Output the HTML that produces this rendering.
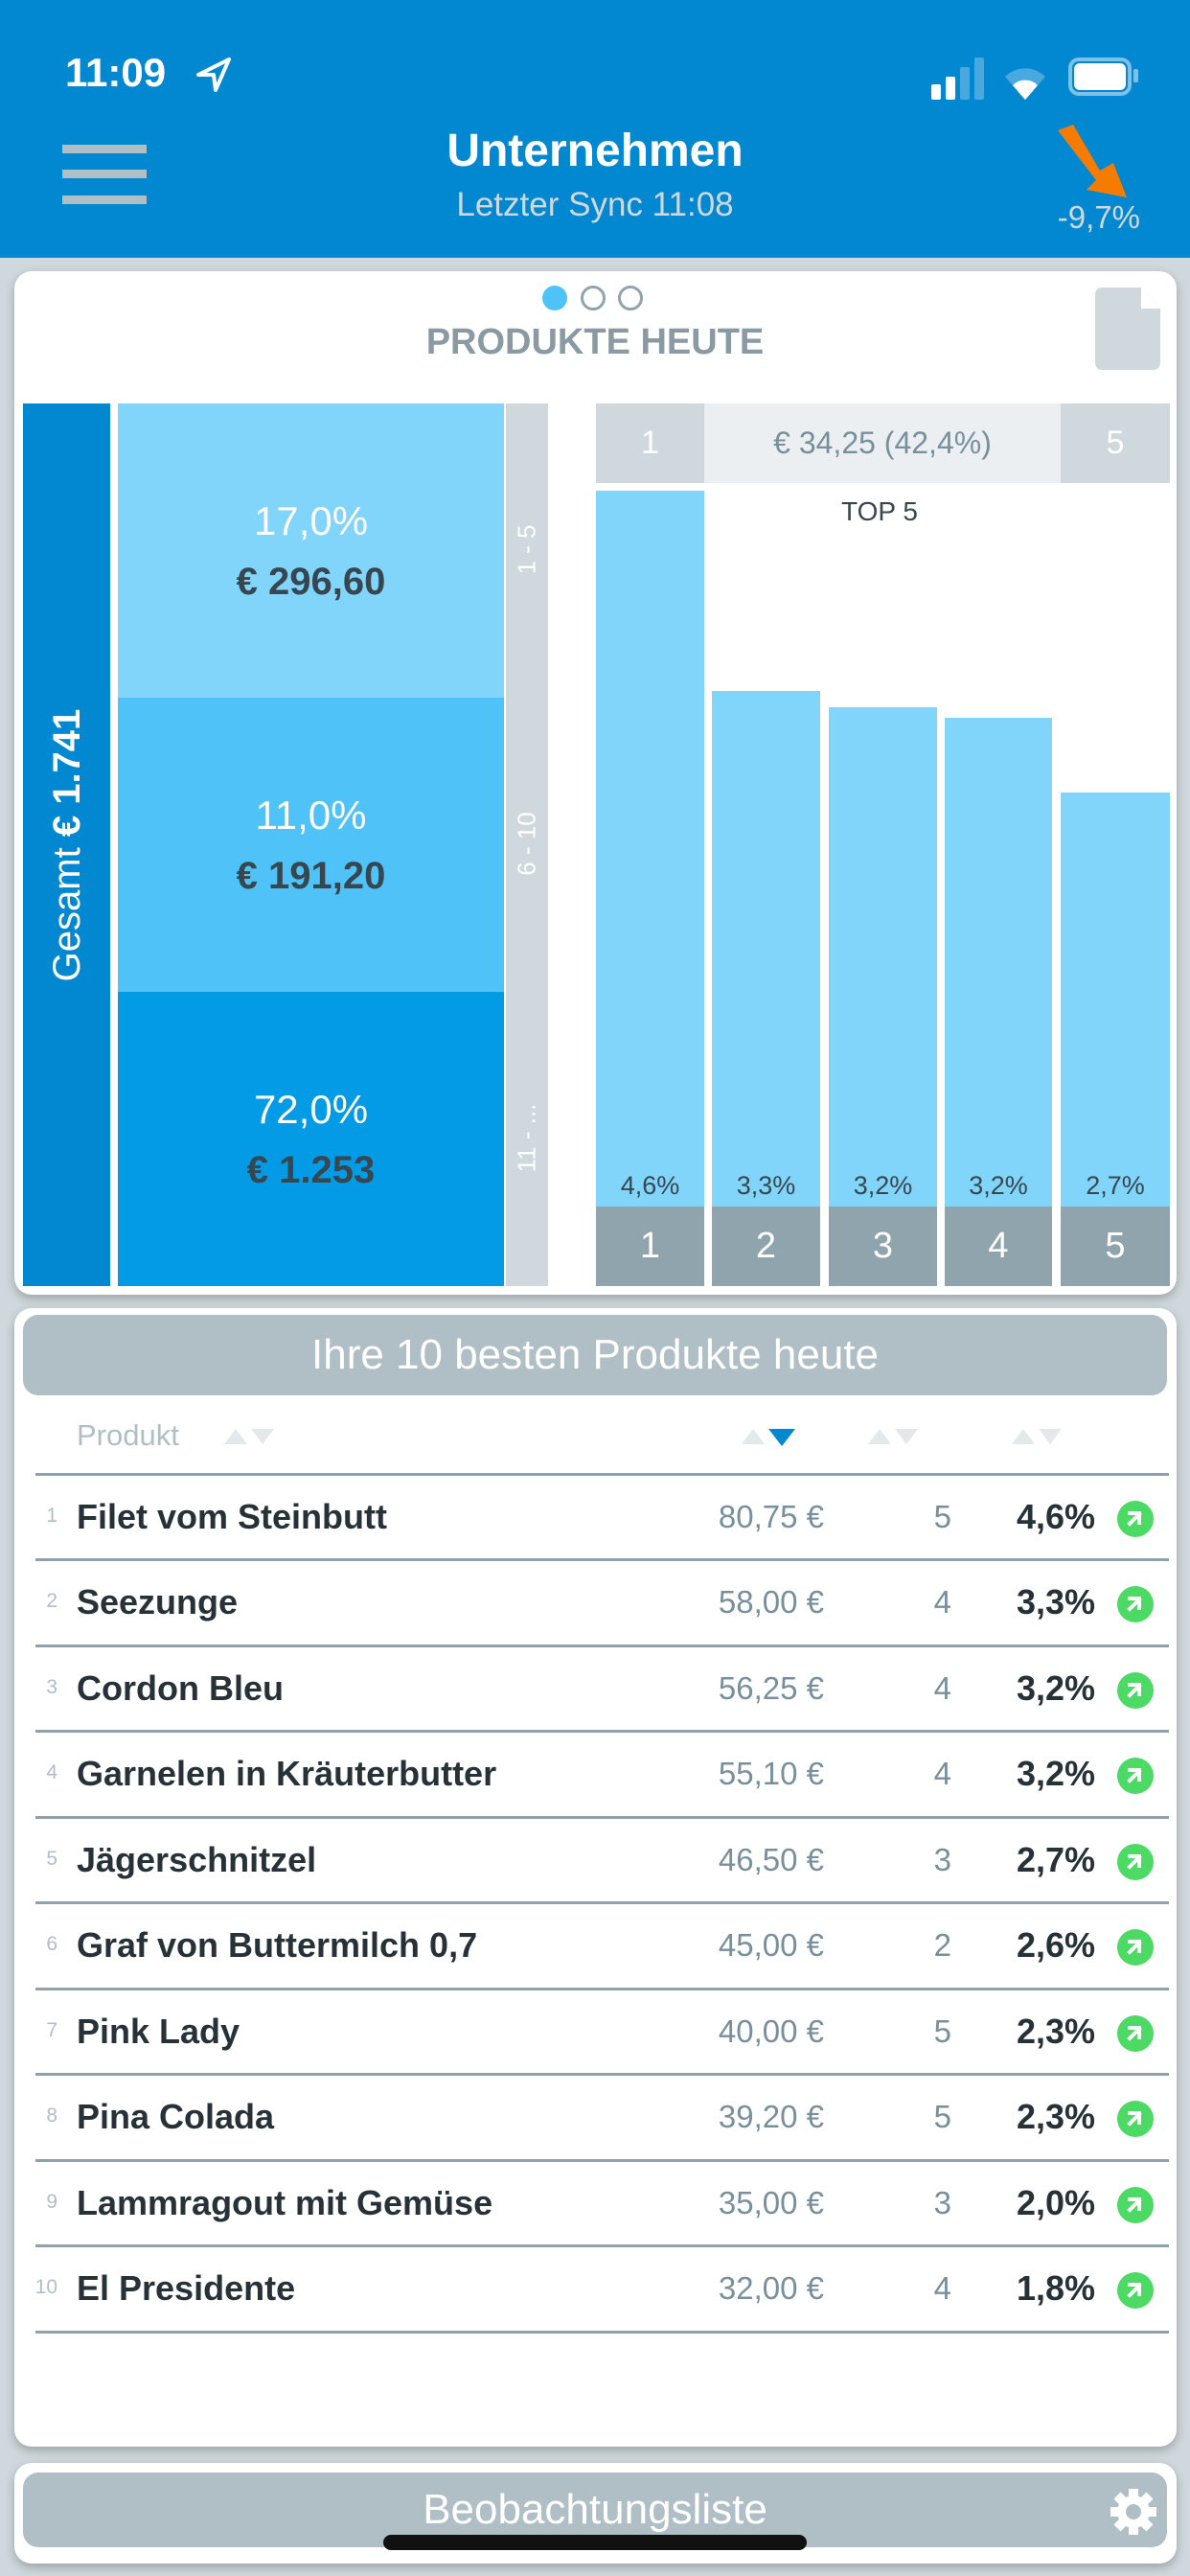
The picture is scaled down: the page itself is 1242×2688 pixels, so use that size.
<!DOCTYPE html>
<html><head><meta charset="utf-8"><style>
*{margin:0;padding:0;box-sizing:border-box}
body{width:1242px;height:2688px;background:#cfd8dc;font-family:"Liberation Sans",sans-serif;position:relative;overflow:hidden}
.a{position:absolute}
.c{text-align:center}
.card{position:absolute;background:#fff;border-radius:18px;box-shadow:0 4px 10px rgba(0,0,0,.25)}
.row{position:absolute;left:0;width:1242px;height:89px}
.idx{position:absolute;right:1182px;font-size:21px;color:#b0bec5;top:32px}
.nm{position:absolute;left:80px;font-size:36px;font-weight:bold;color:#263238;top:24px}
.pr{position:absolute;right:382px;font-size:33px;color:#78909c;top:26px}
.qt{position:absolute;right:249px;font-size:33px;color:#78909c;top:26px}
.pc{position:absolute;right:99px;font-size:36px;font-weight:bold;color:#263238;top:24px}
.gi{position:absolute;left:1166px;top:28px;width:38px;height:38px;border-radius:50%;background:#4cd964}
.ln{position:absolute;left:37px;width:1183px;height:3px;background:#8fa1ad}
.bar{position:absolute;background:#81d4fa}
.pl{position:absolute;font-size:27px;color:#37474f;text-align:center}
.bl{position:absolute;top:1259px;height:83px;background:#90a4ae;color:#fff;font-size:38px;text-align:center;line-height:83px}
</style></head><body>
<div class="a" style="left:0;top:0;width:1242px;height:269px;background:#0288d1"></div>
<div class="a" style="left:68px;top:52px;font-size:42px;font-weight:bold;color:#fff">11:09</div>
<svg class="a" style="left:203px;top:58px" width="40" height="40" viewBox="0 0 40 40"><path d="M36 4 L4 20 L20 20 L22 36 Z" fill="none" stroke="#fff" stroke-width="4" stroke-linejoin="round"/></svg>
<div class="a" style="left:972px;top:190px"></div>
<div class="a" style="left:972px;top:88px;width:10px;height:16px;background:#fff;border-radius:2px"></div>
<div class="a" style="left:987px;top:80px;width:10px;height:24px;background:#fff;border-radius:2px"></div>
<div class="a" style="left:1002px;top:70px;width:10px;height:34px;background:#4aa8e0;border-radius:2px"></div>
<div class="a" style="left:1017px;top:60px;width:10px;height:44px;background:#4aa8e0;border-radius:2px"></div>
<svg class="a" style="left:1045px;top:60px" width="50" height="46" viewBox="0 0 50 46"><path d="M25 44 L4 20 A30 30 0 0 1 46 20 Z" fill="#4aa8e0"/><path d="M25 44 L12 29 A18 18 0 0 1 38 29 Z" fill="#fff"/><path d="M25 44 L17 35 A10 10 0 0 1 33 35 Z" fill="#fff"/></svg>
<div class="a" style="left:1115px;top:60px;width:66px;height:40px;border:4px solid #7fc0e8;border-radius:11px"></div>
<div class="a" style="left:1121px;top:66px;width:54px;height:28px;background:#fff;border-radius:6px"></div>
<div class="a" style="left:1183px;top:72px;width:5px;height:14px;background:#7fc0e8;border-radius:2px"></div>
<div class="a" style="left:65px;top:151px;width:88px;height:9px;background:#b0bec5"></div>
<div class="a" style="left:65px;top:177px;width:88px;height:9px;background:#b0bec5"></div>
<div class="a" style="left:65px;top:204px;width:88px;height:9px;background:#b0bec5"></div>
<div class="a c" style="left:321px;top:130px;width:600px;font-size:48px;font-weight:bold;color:#fff">Unternehmen</div>
<div class="a c" style="left:321px;top:194px;width:600px;font-size:35px;color:#cfd8dc">Letzter Sync 11:08</div>
<svg class="a" style="left:1100px;top:130px" width="80" height="80" viewBox="0 0 80 80"><path d="M4 6 L20 0 L48 48 L62 40 L76 76 L34 68 L44 58 Z" fill="#f57c00"/></svg>
<div class="a" style="left:1080px;top:208px;width:110px;text-align:right;font-size:33px;color:#cfd8dc">-9,7%</div>

<div class="card" style="left:15px;top:283px;width:1213px;height:1068px"></div>
<div class="a" style="left:566px;top:298px;width:26px;height:26px;border-radius:50%;background:#4fc3f7"></div>
<div class="a" style="left:606px;top:298px;width:26px;height:26px;border-radius:50%;border:3px solid #90a4ae"></div>
<div class="a" style="left:645px;top:298px;width:26px;height:26px;border-radius:50%;border:3px solid #90a4ae"></div>
<div class="a c" style="left:321px;top:336px;width:600px;font-size:38px;font-weight:bold;color:#8a9aa3">PRODUKTE HEUTE</div>
<svg class="a" style="left:1143px;top:300px" width="68" height="86" viewBox="0 0 68 86"><path d="M8 0 L48 0 L68 22 L68 78 Q68 86 60 86 L8 86 Q0 86 0 78 L0 8 Q0 0 8 0Z" fill="#cfd8dc"/><path d="M48 0 L48 22 L68 22Z" fill="#fff"/></svg>

<div class="a" style="left:24px;top:421px;width:91px;height:921px;background:#0288d1"></div>
<div class="a c" style="left:-390px;top:858px;width:920px;transform:rotate(-90deg);font-size:40px;color:#fff;line-height:48px">Gesamt <b>€ 1.741</b></div>
<div class="a" style="left:123px;top:421px;width:403px;height:307px;background:#81d4fa"></div>
<div class="a" style="left:123px;top:728px;width:403px;height:307px;background:#4fc3f7"></div>
<div class="a" style="left:123px;top:1035px;width:403px;height:307px;background:#039be5"></div>
<div class="a" style="left:528px;top:421px;width:44px;height:921px;background:#cfd8dc"></div>
<div class="a c" style="left:400px;top:558px;width:300px;transform:rotate(-90deg);font-size:26px;color:#fff">1 - 5</div>
<div class="a c" style="left:400px;top:865px;width:300px;transform:rotate(-90deg);font-size:26px;color:#fff">6 - 10</div>
<div class="a c" style="left:400px;top:1172px;width:300px;transform:rotate(-90deg);font-size:26px;color:#fff">11 - ...</div>
<div class="a c" style="left:123px;top:520px;width:403px;font-size:42px;color:#fff">17,0%</div>
<div class="a c" style="left:123px;top:585px;width:403px;font-size:40px;font-weight:bold;color:#37474f">€ 296,60</div>
<div class="a c" style="left:123px;top:827px;width:403px;font-size:42px;color:#fff">11,0%</div>
<div class="a c" style="left:123px;top:892px;width:403px;font-size:40px;font-weight:bold;color:#37474f">€ 191,20</div>
<div class="a c" style="left:123px;top:1134px;width:403px;font-size:42px;color:#fff">72,0%</div>
<div class="a c" style="left:123px;top:1199px;width:403px;font-size:40px;font-weight:bold;color:#37474f">€ 1.253</div>

<div class="a c" style="left:622px;top:421px;width:113px;height:83px;background:#cfd8dc;color:#fff;font-size:34px;line-height:83px">1</div>
<div class="a c" style="left:735px;top:421px;width:372px;height:83px;background:#eceff1;color:#78909c;font-size:32px;line-height:83px">€ 34,25 (42,4%)</div>
<div class="a c" style="left:1107px;top:421px;width:114px;height:83px;background:#cfd8dc;color:#fff;font-size:34px;line-height:83px">5</div>
<div class="bar" style="left:622px;top:512px;width:113px;height:747px"></div>
<div class="bar" style="left:743px;top:721px;width:113px;height:538px"></div>
<div class="bar" style="left:865px;top:738px;width:113px;height:521px"></div>
<div class="bar" style="left:986px;top:749px;width:112px;height:510px"></div>
<div class="bar" style="left:1107px;top:827px;width:114px;height:432px"></div>
<div class="a c" style="left:818px;top:518px;width:200px;font-size:28px;color:#37474f">TOP 5</div>
<div class="pl" style="left:622px;top:1222px;width:113px">4,6%</div>
<div class="pl" style="left:743px;top:1222px;width:113px">3,3%</div>
<div class="pl" style="left:865px;top:1222px;width:113px">3,2%</div>
<div class="pl" style="left:986px;top:1222px;width:112px">3,2%</div>
<div class="pl" style="left:1107px;top:1222px;width:114px">2,7%</div>
<div class="bl" style="left:622px;width:113px">1</div>
<div class="bl" style="left:743px;width:113px">2</div>
<div class="bl" style="left:865px;width:113px">3</div>
<div class="bl" style="left:986px;width:112px">4</div>
<div class="bl" style="left:1107px;width:114px">5</div>

<div class="card" style="left:15px;top:1365px;width:1213px;height:1188px"></div>
<div class="a c" style="left:24px;top:1372px;width:1194px;height:84px;background:#b0bec5;border-radius:16px;color:#fff;font-size:44px;line-height:84px">Ihre 10 besten Produkte heute</div>
<div class="a" style="left:80px;top:1480px;font-size:31px;color:#b0bec5">Produkt</div>
<svg class="a" style="left:230px;top:1485px" width="960" height="30" viewBox="0 0 960 30">
<g fill="#e3e8eb"><path d="M4 22 L16 6 L28 22Z"/><path d="M32 6 L56 6 L44 22Z"/>
<path d="M544 22 L556 6 L568 22Z"/>
<path d="M676 22 L688 6 L700 22Z"/><path d="M704 6 L728 6 L716 22Z"/>
<path d="M826 22 L838 6 L850 22Z"/><path d="M854 6 L878 6 L866 22Z"/></g>
<path d="M572 6 L600 6 L586 24Z" fill="#0288d1"/></svg>

<div class="ln" style="top:1537px"></div>
<div class="row" style="top:1538px"><span class="idx">1</span><span class="nm">Filet vom Steinbutt</span><span class="pr">80,75 €</span><span class="qt">5</span><span class="pc">4,6%</span><span class="gi"></span></div>
<div class="ln" style="top:1626px"></div>
<div class="row" style="top:1627px"><span class="idx">2</span><span class="nm">Seezunge</span><span class="pr">58,00 €</span><span class="qt">4</span><span class="pc">3,3%</span><span class="gi"></span></div>
<div class="ln" style="top:1716px"></div>
<div class="row" style="top:1717px"><span class="idx">3</span><span class="nm">Cordon Bleu</span><span class="pr">56,25 €</span><span class="qt">4</span><span class="pc">3,2%</span><span class="gi"></span></div>
<div class="ln" style="top:1805px"></div>
<div class="row" style="top:1806px"><span class="idx">4</span><span class="nm">Garnelen in Kräuterbutter</span><span class="pr">55,10 €</span><span class="qt">4</span><span class="pc">3,2%</span><span class="gi"></span></div>
<div class="ln" style="top:1895px"></div>
<div class="row" style="top:1896px"><span class="idx">5</span><span class="nm">Jägerschnitzel</span><span class="pr">46,50 €</span><span class="qt">3</span><span class="pc">2,7%</span><span class="gi"></span></div>
<div class="ln" style="top:1984px"></div>
<div class="row" style="top:1985px"><span class="idx">6</span><span class="nm">Graf von Buttermilch 0,7</span><span class="pr">45,00 €</span><span class="qt">2</span><span class="pc">2,6%</span><span class="gi"></span></div>
<div class="ln" style="top:2074px"></div>
<div class="row" style="top:2075px"><span class="idx">7</span><span class="nm">Pink Lady</span><span class="pr">40,00 €</span><span class="qt">5</span><span class="pc">2,3%</span><span class="gi"></span></div>
<div class="ln" style="top:2163px"></div>
<div class="row" style="top:2164px"><span class="idx">8</span><span class="nm">Pina Colada</span><span class="pr">39,20 €</span><span class="qt">5</span><span class="pc">2,3%</span><span class="gi"></span></div>
<div class="ln" style="top:2253px"></div>
<div class="row" style="top:2254px"><span class="idx">9</span><span class="nm">Lammragout mit Gemüse</span><span class="pr">35,00 €</span><span class="qt">3</span><span class="pc">2,0%</span><span class="gi"></span></div>
<div class="ln" style="top:2342px"></div>
<div class="row" style="top:2343px"><span class="idx">10</span><span class="nm">El Presidente</span><span class="pr">32,00 €</span><span class="qt">4</span><span class="pc">1,8%</span><span class="gi"></span></div>
<div class="ln" style="top:2432px"></div>

<div class="card" style="left:15px;top:2570px;width:1213px;height:105px"></div>
<div class="a c" style="left:24px;top:2580px;width:1194px;height:78px;background:#b0bec5;border-radius:16px;color:#fff;font-size:44px;line-height:78px">Beobachtungsliste</div>
<svg class="a" style="left:1158px;top:2596px" width="50" height="50" viewBox="0 0 50 50"><g fill="#fff"><circle cx="25" cy="25" r="17"/><g id="t"><rect x="20" y="1" width="10" height="48"/><rect x="20" y="1" width="10" height="48" transform="rotate(45 25 25)"/><rect x="20" y="1" width="10" height="48" transform="rotate(90 25 25)"/><rect x="20" y="1" width="10" height="48" transform="rotate(135 25 25)"/></g></g><circle cx="25" cy="25" r="8" fill="#b0bec5"/></svg>
<div class="a" style="left:400px;top:2645px;width:442px;height:16px;background:#111;border-radius:8px"></div>
<style>.gi::after{content:"";position:absolute;left:11px;top:11px;width:14px;height:14px;border-top:4px solid #fff;border-right:4px solid #fff;box-sizing:border-box}.gi::before{content:"";position:absolute;left:9px;top:17px;width:18px;height:4px;background:#fff;transform:rotate(-45deg)}</style>
</body></html>
